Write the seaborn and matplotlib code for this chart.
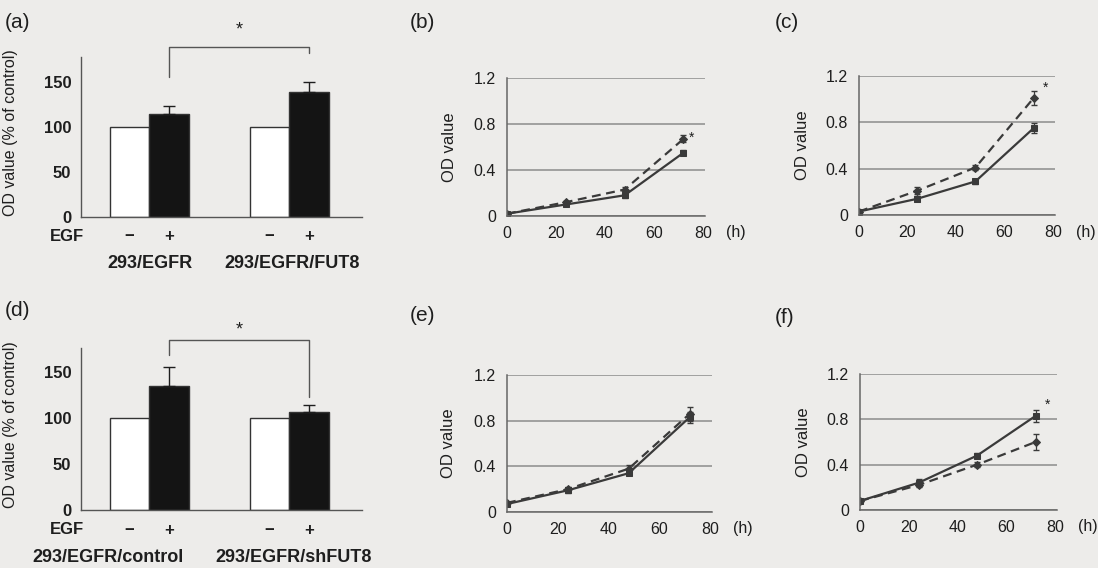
import numpy as np
import pandas as pd
import matplotlib
matplotlib.use("Agg")
import matplotlib.pyplot as plt
import seaborn as sns

# %% Data
groups_top = ["293/EGFR", "293/EGFR/FUT8"]
groups_bottom = ["293/EGFR/control", "293/EGFR/shFUT8"]
ctrl_pct = [100, 100]                 # EGF -  (white bars)
egf_pct_a = [115, 139]                # EGF +  (black bars), panel (a)
egf_err_a = [8, 11]
egf_pct_d = [135, 107]                # panel (d)
egf_err_d = [20, 7]

hours = [0, 24, 48, 72]
b_solid = [0.02, 0.10, 0.18, 0.55]
b_solid_err = [0.01, 0.01, 0.02, 0.02]
b_dash = [0.02, 0.12, 0.23, 0.67]
b_dash_err = [0.01, 0.01, 0.02, 0.03]

c_solid = [0.03, 0.14, 0.29, 0.75]
c_solid_err = [0.01, 0.02, 0.02, 0.04]
c_dash = [0.03, 0.21, 0.41, 1.01]
c_dash_err = [0.01, 0.03, 0.02, 0.06]

e_solid = [0.07, 0.19, 0.34, 0.83]
e_solid_err = [0.01, 0.02, 0.02, 0.05]
e_dash = [0.08, 0.20, 0.38, 0.86]
e_dash_err = [0.01, 0.02, 0.03, 0.06]

f_solid = [0.08, 0.24, 0.48, 0.83]
f_solid_err = [0.01, 0.03, 0.02, 0.05]
f_dash = [0.08, 0.22, 0.40, 0.60]
f_dash_err = [0.01, 0.02, 0.02, 0.07]

# %% Style
sns.set_theme(style="white")
plt.rcParams["font.family"] = ["Liberation Sans", "DejaVu Sans"]
BG = "#edecea"
INK = "#1e1e1e"
LINE = "#3a3a3a"
GRID = "#8c8c8c"

W, H = 1098, 568
fig = plt.figure(figsize=(W / 100, H / 100), dpi=100, facecolor=BG)


def box(left, right, top, bottom):
    return [left / W, 1 - bottom / H, (right - left) / W, (bottom - top) / H]


def ftext(x, y, s, **kw):
    fig.text(x / W, 1 - y / H, s, **kw)


GAP = 3.55  # spacing between the two bar groups (bar units)


def bar_panel(ax, ctrl, egf, err, ytop, bracket, star_y):
    rows = []
    for g, (c, e) in enumerate(zip(ctrl, egf)):
        rows.append({"pos": g * GAP, "val": c, "egf": "-"})
        rows.append({"pos": g * GAP + 1, "val": e, "egf": "+"})
    df = pd.DataFrame(rows)
    sns.barplot(data=df, x="pos", y="val", hue="egf",
                palette={"-": "white", "+": "#141414"},
                native_scale=True, width=1, dodge=False, errorbar=None,
                edgecolor="#333333", linewidth=1.0, legend=False, ax=ax)
    egf_pos = df.loc[df["egf"] == "+", "pos"].values
    ax.errorbar(egf_pos, egf, yerr=[np.zeros(len(err)), err], fmt="none",
                ecolor=INK, elinewidth=1.0, capsize=4, capthick=1.0)

    ax.set_xlim(-1.23, 5.89)
    ax.set_ylim(0, ytop)
    ax.set_xticks([])
    ax.set_xlabel("")
    ax.set_yticks([0, 50, 100, 150])
    ax.tick_params(axis="y", direction="out", length=4, width=1, color="#444",
                   labelsize=12, labelcolor=INK, pad=3)
    for lab in ax.get_yticklabels():
        lab.set_fontweight("bold")
    for s in ["top", "right"]:
        ax.spines[s].set_visible(False)
    for s in ["left", "bottom"]:
        ax.spines[s].set_color("#555")
        ax.spines[s].set_linewidth(1.0)
    ax.set_facecolor("none")

    # significance bracket
    l_low, top, r_low = bracket
    ax.plot([1, 1, GAP + 1, GAP + 1], [l_low, top, top, r_low],
            color="#555", lw=1.0, clip_on=False)
    ax.text((1 + GAP + 1) / 2, star_y, "*", ha="center", va="center",
            fontsize=13, color=INK, clip_on=False)

    # EGF -/+ row
    tr = ax.get_xaxis_transform()
    for x in df["pos"]:
        sign = "\u2212" if (x % GAP) < 0.5 else "+"
        ax.text(x, -0.125, sign, transform=tr, ha="center", va="center",
                fontsize=12, fontweight="bold", color=INK, clip_on=False)


def line_panel(ax, solid, solid_err, dash, dash_err, star_xy):
    df = pd.DataFrame({
        "time": hours * 2,
        "od": solid + dash,
        "cond": ["solid"] * len(hours) + ["dash"] * len(hours),
    })
    sns.lineplot(data=df, x="time", y="od", hue="cond", style="cond",
                 palette={"solid": LINE, "dash": LINE},
                 dashes={"solid": "", "dash": (4, 2.5)},
                 markers={"solid": "s", "dash": "D"}, markersize=4,
                 markeredgecolor=LINE, lw=1.6, errorbar=None,
                 legend=False, ax=ax)
    ax.errorbar(hours, solid, yerr=solid_err, fmt="none", ecolor=LINE,
                elinewidth=0.9, capsize=2.5)
    ax.errorbar(hours, dash, yerr=dash_err, fmt="none", ecolor=LINE,
                elinewidth=0.9, capsize=2.5)

    ax.set_xlim(0, 80.8)
    ax.set_ylim(0, 1.2)
    ax.set_yticks([0, 0.4, 0.8, 1.2])
    ax.set_yticklabels(["0", "0.4", "0.8", "1.2"])
    ax.set_xticks([0, 20, 40, 60, 80])
    ax.set_xlabel("")
    ax.set_ylabel("OD value", fontsize=12, color=INK)
    ax.yaxis.set_label_coords(-0.25, 0.5)
    ax.yaxis.grid(True, color=GRID, lw=1.1)
    ax.xaxis.grid(False)
    ax.set_axisbelow(True)
    ax.tick_params(axis="x", direction="in", length=3, width=1, color="#555",
                   labelsize=11.5, labelcolor=INK, pad=7)
    ax.tick_params(axis="y", length=0, labelsize=11.5, labelcolor=INK, pad=8)
    for s in ["top", "right"]:
        ax.spines[s].set_visible(False)
    for s in ["left", "bottom"]:
        ax.spines[s].set_color("#666")
        ax.spines[s].set_linewidth(1.1)
    ax.set_facecolor("none")
    ax.annotate("(h)", xy=(80, 0), xycoords="data", xytext=(33, -17),
                textcoords="offset pixels", ha="center", va="center",
                fontsize=11.5, color=INK, annotation_clip=False)
    if star_xy is not None:
        ax.text(star_xy[0], star_xy[1], "*", ha="center", va="center",
                fontsize=10, color=INK, clip_on=False)


# %% Panel (a)
ax_a = fig.add_axes(box(81, 362, 57, 217))
bar_panel(ax_a, ctrl_pct, egf_pct_a, egf_err_a, 178,
          bracket=(155.5, 189, 182), star_y=208)
ax_a.set_ylabel("OD value (% of control)", fontsize=11.5, color=INK)
ax_a.yaxis.set_label_coords(-0.224, 0.53)
ftext(67, 237, "EGF", ha="center", va="center", fontsize=12,
      fontweight="bold", color=INK)
ftext(150, 263, groups_top[0], ha="center", va="center", fontsize=13,
      fontweight="bold", color=INK)
ftext(292, 263, groups_top[1], ha="center", va="center", fontsize=13,
      fontweight="bold", color=INK)

# %% Panel (d)
ax_d = fig.add_axes(box(81, 362, 348, 510))
bar_panel(ax_d, ctrl_pct, egf_pct_d, egf_err_d, 176,
          bracket=(168, 185, 123), star_y=196)
ax_d.set_ylabel("OD value (% of control)", fontsize=11.5, color=INK)
ax_d.yaxis.set_label_coords(-0.224, 0.53)
ftext(67, 530, "EGF", ha="center", va="center", fontsize=12,
      fontweight="bold", color=INK)
ftext(108, 557, groups_bottom[0], ha="center", va="center", fontsize=13,
      fontweight="bold", color=INK)
ftext(294, 557, groups_bottom[1], ha="center", va="center", fontsize=13,
      fontweight="bold", color=INK)

# %% Growth curves
ax_b = fig.add_axes(box(507, 705, 78, 216))
line_panel(ax_b, b_solid, b_solid_err, b_dash, b_dash_err, (75.5, 0.68))
ax_c = fig.add_axes(box(859, 1055, 76, 215))
line_panel(ax_c, c_solid, c_solid_err, c_dash, c_dash_err, (76.7, 1.10))
ax_e = fig.add_axes(box(507, 712, 375, 512))
line_panel(ax_e, e_solid, e_solid_err, e_dash, e_dash_err, None)
ax_f = fig.add_axes(box(860, 1057, 374, 510))
line_panel(ax_f, f_solid, f_solid_err, f_dash, f_dash_err, (77, 0.93))

# %% Panel letters
for x, y, s in [(5, 13, "(a)"), (410, 13, "(b)"), (775, 13, "(c)"),
                (5, 301, "(d)"), (410, 306, "(e)"), (775, 308, "(f)")]:
    ftext(x, y, s, ha="left", va="top", fontsize=15, color=INK)

fig.savefig("out.png", dpi=100, facecolor=BG)
